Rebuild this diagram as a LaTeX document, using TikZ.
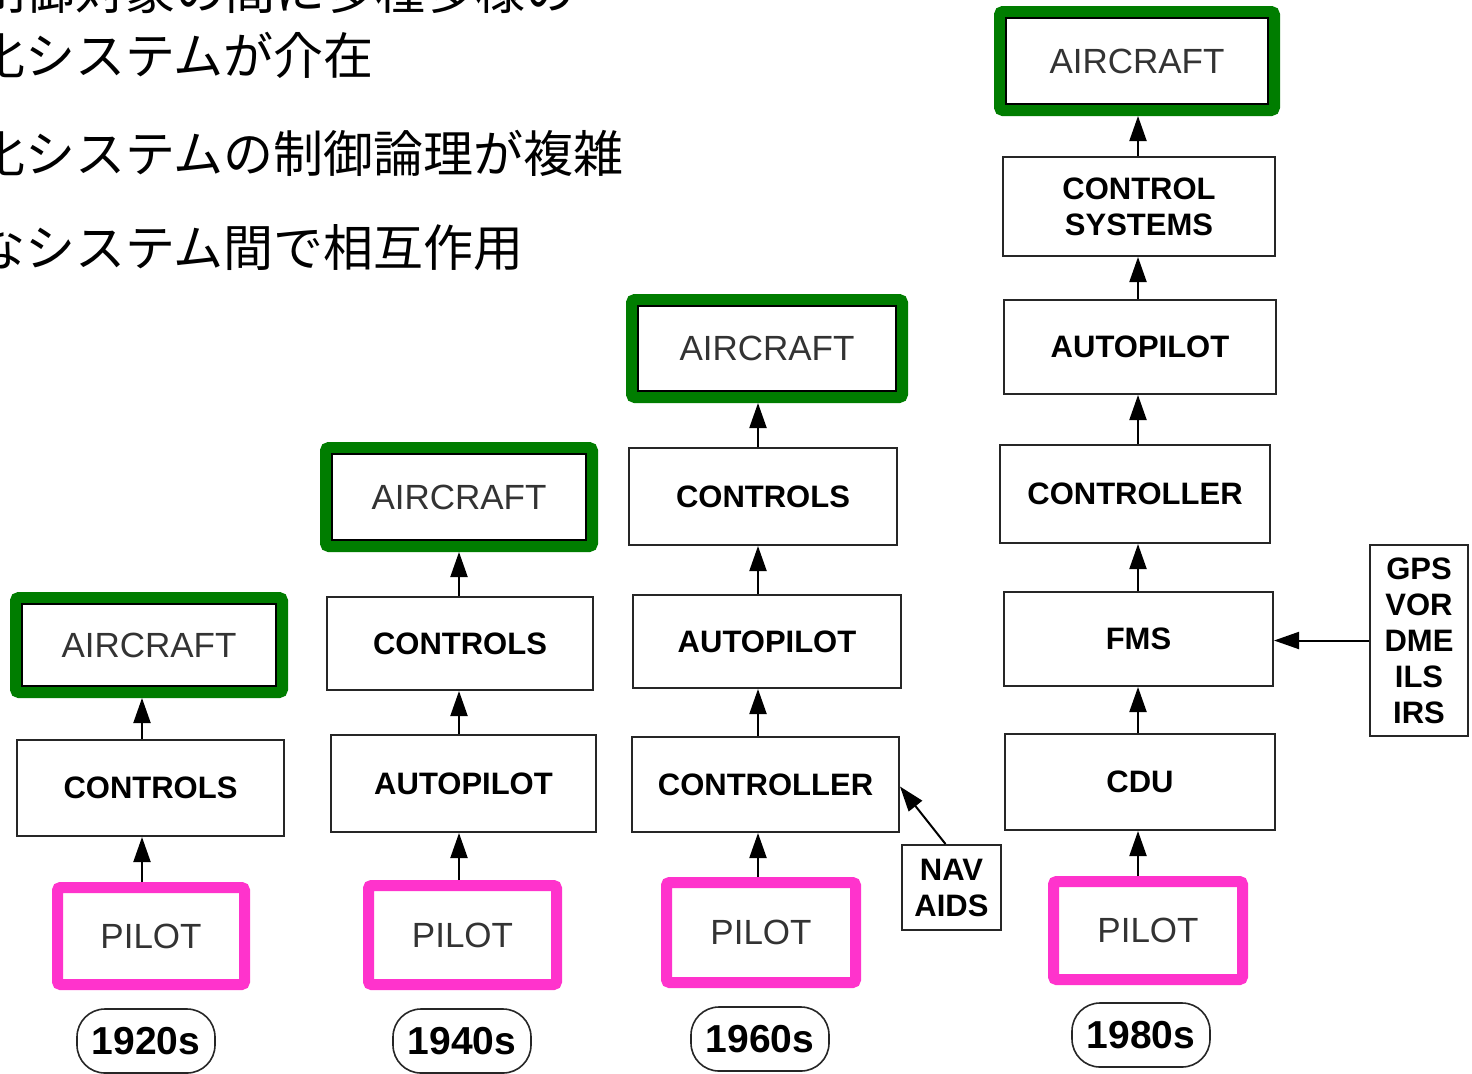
\documentclass[tikz,border=0pt]{standalone}
\usepackage{fontspec}
\setmainfont{Liberation Sans}
\newfontfamily\jpfont{Noto Sans CJK JP}
\usetikzlibrary{shapes.geometric,arrows.meta}
\definecolor{greenc}{RGB}{0,125,0}
\definecolor{pinkc}{RGB}{255,51,204}
\tikzset{
  thinbox/.style={draw=black!85, line width=1pt, inner sep=0pt, align=center,
    font=\bfseries\fontsize{15.5}{18}\selectfont},
  gbox/.style={draw=greenc, line width=6pt, outer sep=3pt, rounded corners=1.5pt,
    inner sep=0pt, text=black!80, font=\fontsize{17.5}{20}\selectfont},
  pbox/.style={draw=pinkc, line width=5.5pt, outer sep=2.75pt, rounded corners=1.5pt,
    inner sep=0pt, text=black!80, font=\fontsize{17.5}{20}\selectfont},
  yearlbl/.style={rectangle, rounded corners=14pt, draw=black!85, line width=0.8pt, inner sep=0pt,
    minimum width=69pt, minimum height=32pt, font=\bfseries\fontsize{19.5}{20}\selectfont},
  arr/.style={-{Triangle[length=12.5pt,width=8.5pt]}, line width=1pt, draw=black},
  jptext/.style={anchor=base west, inner sep=0pt, font=\jpfont\fontsize{25}{25}\selectfont}
}
\begin{document}
\begin{tikzpicture}[x=0.5pt,y=-0.5pt]
\useasboundingbox (0,0) rectangle (1472,1073);
\clip (0,0) rectangle (1472,1073);
\fill[white] (0,0) rectangle (1472,1073);

% Japanese text (cut at the edges of the picture, as in the reference)
\node[jptext] (j1) at (-25,9) {制御対象の間に多種多様の};
\node[jptext] (j2) at (-25,74) {化システムが介在};
\node[jptext] (j3) at (-25,172) {化システムの制御論理が複雑};
\node[jptext] (j4) at (-25,266) {なシステム間で相互作用};

% column 1920s
\node[gbox, minimum width=133pt, minimum height=47pt] (ac1) at (149,645) {AIRCRAFT};
\node[thinbox, minimum width=133.5pt, minimum height=48pt] (ct1) at (150.5,788) {CONTROLS};
\node[pbox, minimum width=93.5pt, minimum height=48.5pt] (pl1) at (151,936) {PILOT};
\node[yearlbl] (yr1) at (146,1041) {1920s};

% column 1940s
\node[gbox, minimum width=133pt, minimum height=49pt] (ac2) at (459,497) {AIRCRAFT};
\node[thinbox, minimum width=133pt, minimum height=46.5pt] (ct2) at (460,643.5) {CONTROLS};
\node[thinbox, minimum width=132.5pt, minimum height=48.5pt] (ap2) at (463.5,783.5) {AUTOPILOT};
\node[pbox, minimum width=94pt, minimum height=49.5pt] (pl2) at (462.5,935) {PILOT};
\node[yearlbl] (yr2) at (462,1041) {1940s};

% column 1960s
\node[gbox, minimum width=135pt, minimum height=48.5pt] (ac3) at (767,348.5) {AIRCRAFT};
\node[thinbox, minimum width=134pt, minimum height=48.5pt] (ct3) at (763,496.5) {CONTROLS};
\node[thinbox, minimum width=134pt, minimum height=46.5pt] (ap3) at (767,641.5) {AUTOPILOT};
\node[thinbox, minimum width=133.5pt, minimum height=47.5pt] (cr3) at (765.5,784.5) {CONTROLLER};
\node[pbox, minimum width=94.5pt, minimum height=50pt] (pl3) at (761,932.5) {PILOT};
\node[yearlbl] (yr3) at (760,1039) {1960s};
\node[thinbox, minimum width=49.5pt, minimum height=42.5pt] (nav) at (951.5,887.5) {NAV\\AIDS};

% column 1980s
\node[gbox, minimum width=137pt, minimum height=49pt] (ac4) at (1137,61) {AIRCRAFT};
\node[thinbox, minimum width=136pt, minimum height=49.5pt] (cs4) at (1139,206.5) {CONTROL\\SYSTEMS};
\node[thinbox, minimum width=136pt, minimum height=47pt] (ap4) at (1140,347) {AUTOPILOT};
\node[thinbox, minimum width=135pt, minimum height=49pt] (cr4) at (1135,494) {CONTROLLER};
\node[thinbox, minimum width=134.5pt, minimum height=47pt] (fm4) at (1138.5,639) {FMS};
\node[thinbox, minimum width=135pt, minimum height=48pt] (cd4) at (1140,782) {CDU};
\node[pbox, minimum width=94.5pt, minimum height=49pt] (pl4) at (1148,930.5) {PILOT};
\node[yearlbl] (yr4) at (1141,1035) {1980s};
\node[thinbox, minimum width=49pt, minimum height=95.5pt] (gps) at (1419,640.5) {GPS\\VOR\\DME\\ILS\\IRS};

% thin black frames inside the coloured frames
\foreach \n in {ac1,ac2,ac3,ac4}
  \draw[black, line width=0.6pt] ([shift={(12,12)}]\n.north west) rectangle ([shift={(-12,-12)}]\n.south east);

% arrow columns
\coordinate (a1) at (142,0);
\coordinate (a2) at (459,0);
\coordinate (a3) at (758,0);
\coordinate (a4) at (1138,0);

\draw[arr] (pl1.north -| a1) -- (ct1.south -| a1);
\draw[arr] (ct1.north -| a1) -- (ac1.south -| a1);

\draw[arr] (pl2.north -| a2) -- (ap2.south -| a2);
\draw[arr] (ap2.north -| a2) -- (ct2.south -| a2);
\draw[arr] (ct2.north -| a2) -- (ac2.south -| a2);

\draw[arr] (pl3.north -| a3) -- (cr3.south -| a3);
\draw[arr] (cr3.north -| a3) -- (ap3.south -| a3);
\draw[arr] (ap3.north -| a3) -- (ct3.south -| a3);
\draw[arr] (ct3.north -| a3) -- (ac3.south -| a3);
\draw[arr] ([xshift=-3pt]nav.north) -- ([yshift=-1pt]cr3.east);

\draw[arr] (pl4.north -| a4) -- (cd4.south -| a4);
\draw[arr] (cd4.north -| a4) -- (fm4.south -| a4);
\draw[arr] (fm4.north -| a4) -- (cr4.south -| a4);
\draw[arr] (cr4.north -| a4) -- (ap4.south -| a4);
\draw[arr] (ap4.north -| a4) -- (cs4.south -| a4);
\draw[arr] (cs4.north -| a4) -- (ac4.south -| a4);
\draw[arr] (gps.west) -- (fm4.east |- gps.west);
\end{tikzpicture}
\end{document}
